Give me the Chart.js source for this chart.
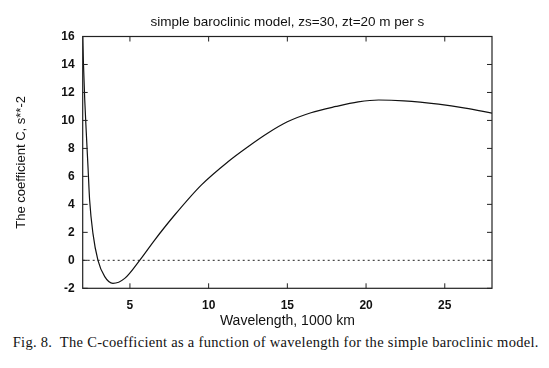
<!DOCTYPE html>
<html>
<head>
<meta charset="utf-8">
<script src="https://cdn.jsdelivr.net/npm/chart.js@4.4.0/dist/chart.umd.min.js"></script>
<style>
  html, body { margin: 0; padding: 0; background: #fff; }
  #wrap { position: relative; width: 549px; height: 368px; }
  #caption {
    position: absolute; left: 12.7px; top: 334px;
    font-family: "Liberation Serif", "DejaVu Serif", serif;
    font-size: 14.5px; line-height: 16px; letter-spacing: 0.3px;
    color: #111; white-space: nowrap;
  }
</style>
</head>
<body>
<div id="wrap">
  <canvas id="myChart" width="549" height="330"></canvas>
  <div id="caption">Fig. 8.&nbsp; The C-coefficient as a function of wavelength for the simple baroclinic model.</div>
</div>
<script>
// wavelength (1000 km) and C coefficient (s**-2)
const wavelength = [2.0, 2.05, 2.13, 2.23, 2.34, 2.44, 2.65, 2.97, 3.40, 3.92, 4.67, 5.62, 6.57, 7.84, 9.53, 11.23, 12.5, 13.77, 15.0, 16.5, 18.1, 19.5, 20.8, 22.4, 24.6, 26.3, 28.0];
const coeffC = [16, 14, 11.46, 9.08, 6.6, 4.31, 1.93, 0, -1.17, -1.65, -1.29, 0, 1.45, 3.24, 5.38, 7.05, 8.12, 9.1, 9.9, 10.55, 11.0, 11.32, 11.46, 11.4, 11.16, 10.88, 10.52];
const zeroLineX = [2, 28];
const zeroLineY = [0, 0];
const xTickLabels = [5, 10, 15, 20, 25];
const yTickLabels = [-2, 0, 2, 4, 6, 8, 10, 12, 14, 16];
const chartTitle = 'simple baroclinic model, zs=30, zt=20 m per s';

// frame, inward tick marks and title centred over the plot box
const framePlugin = {
  id: 'frame',
  afterDraw(chart) {
    const ctx = chart.ctx;
    const a = chart.chartArea;
    const xs = chart.scales.x, ys = chart.scales.y;
    ctx.save();
    ctx.strokeStyle = '#222';
    ctx.lineWidth = 1.2;
    ctx.strokeRect(a.left, a.top, a.right - a.left, a.bottom - a.top);
    ctx.lineWidth = 1;
    ctx.beginPath();
    xTickLabels.forEach(v => {
      const px = xs.getPixelForValue(v);
      ctx.moveTo(px, a.bottom); ctx.lineTo(px, a.bottom - 5);
      ctx.moveTo(px, a.top); ctx.lineTo(px, a.top + 5);
    });
    yTickLabels.forEach(v => {
      const py = ys.getPixelForValue(v);
      ctx.moveTo(a.left, py); ctx.lineTo(a.left + 5, py);
      ctx.moveTo(a.right, py); ctx.lineTo(a.right - 5, py);
    });
    ctx.stroke();
    ctx.fillStyle = '#111';
    ctx.font = '13.5px "Liberation Sans", Arial, sans-serif';
    ctx.textAlign = 'center';
    ctx.textBaseline = 'middle';
    ctx.fillText(chartTitle, (a.left + a.right) / 2, 22);
    ctx.restore();
  }
};

const ctx = document.getElementById('myChart').getContext('2d');
const chart = new Chart(ctx, {
  type: 'scatter',
  data: {
    datasets: [{
      data: wavelength.map((x, i) => ({x: x, y: coeffC[i]})),
      showLine: true,
      borderColor: '#111',
      borderWidth: 1.2,
      pointRadius: 0,
      cubicInterpolationMode: 'monotone'
    }, {
      data: zeroLineX.map((x, i) => ({x: x, y: zeroLineY[i]})),
      showLine: true,
      borderColor: '#222',
      borderWidth: 1,
      borderDash: [2, 3],
      pointRadius: 0
    }]
  },
  options: {
    responsive: false,
    animation: false,
    layout: { padding: { left: 0, right: 57, top: 36.5, bottom: 0 } },
    plugins: {
      legend: { display: false },
      tooltip: { enabled: false },
      title: { display: false }
    },
    scales: {
      x: {
        type: 'linear',
        min: 2, max: 28,
        afterFit: s => { s.height = 41.7; },
        grid: { display: false, drawTicks: false },
        border: { display: false },
        ticks: {
          stepSize: 5,
          padding: 10,
          color: '#111',
          font: { family: 'Liberation Sans, Arial, sans-serif', size: 12, weight: 'bold' },
          callback: v => xTickLabels.includes(v) ? v : ''
        },
        title: {
          display: true,
          text: 'Wavelength, 1000 km',
          color: '#111',
          font: { family: 'Liberation Sans, Arial, sans-serif', size: 14 },
          padding: { top: 2.6, bottom: 0 }
        }
      },
      y: {
        min: -2, max: 16,
        afterFit: s => { s.width = 82.7; },
        grid: { display: false, drawTicks: false },
        border: { display: false },
        ticks: {
          stepSize: 2,
          padding: 8,
          color: '#111',
          font: { family: 'Liberation Sans, Arial, sans-serif', size: 12, weight: 'bold' }
        },
        title: {
          display: true,
          text: 'The coefficient C, s**-2',
          color: '#111',
          font: { family: 'Liberation Sans, Arial, sans-serif', size: 13 },
          padding: { top: 13.2, bottom: 0 }
        }
      }
    }
  },
  plugins: [framePlugin]
});
</script>
</body>
</html>
